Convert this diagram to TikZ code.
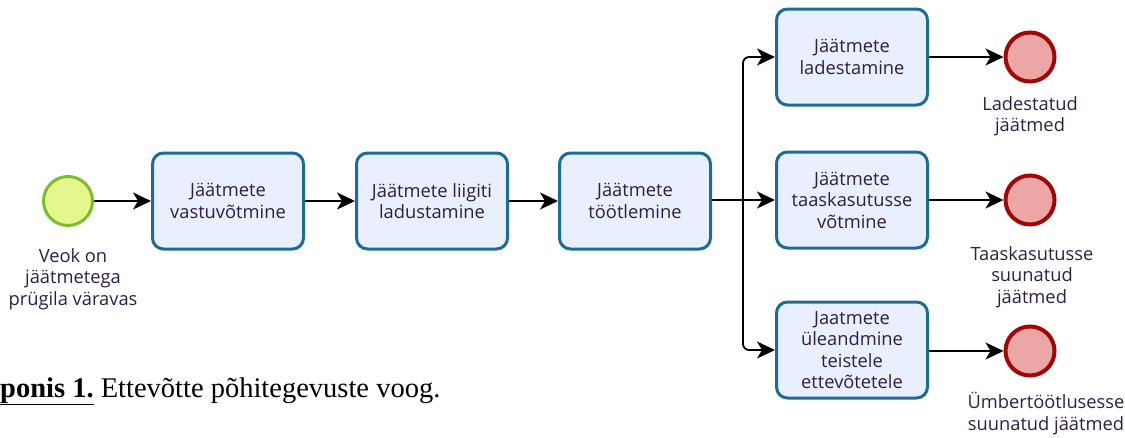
\documentclass[tikz,border=0pt]{standalone}
\usepackage{fontspec}
\setmainfont{Liberation Serif}
\newfontfamily\bpmnfont{Open Sans}
\usetikzlibrary{arrows.meta}
\definecolor{taskfill}{RGB}{233,239,252}
\definecolor{taskdraw}{RGB}{28,108,150}
\definecolor{startfill}{RGB}{229,246,140}
\definecolor{startdraw}{RGB}{122,190,45}
\definecolor{endfill}{RGB}{236,166,166}
\definecolor{enddraw}{RGB}{160,8,8}
\definecolor{bpmntext}{RGB}{45,30,70}
\tikzset{
  taskbox/.style={draw=taskdraw, fill=taskfill, line width=3pt, rounded corners=11pt,
    minimum width=151pt, minimum height=96pt, align=center, inner sep=2pt,
    font=\bpmnfont\fontsize{18.3}{21.5}\selectfont, text=bpmntext},
  startev/.style={circle, draw=startdraw, fill=startfill, line width=3pt, minimum size=49pt, inner sep=0pt},
  endev/.style={circle, draw=enddraw, fill=endfill, line width=4pt, minimum size=49pt, inner sep=0pt},
  evlabel/.style={align=center, inner sep=0pt, anchor=north,
    font=\bpmnfont\fontsize{18.3}{21.5}\selectfont, text=bpmntext},
  flow/.style={line width=1.8pt, -{Stealth[length=18pt,width=17pt,inset=5pt]}},
  plainflow/.style={line width=1.8pt},
}
\begin{document}
\begin{tikzpicture}[x=1pt,y=-1pt]
\useasboundingbox (0,0) rectangle (1125,437);
% events
\node[startev] (s) at (68,201) {};
\node[taskbox] (b1) at (228,201) {Jäätmete\\vastuvõtmine};
\node[taskbox] (b2) at (432,201) {Jäätmete liigiti\\ladustamine};
\node[taskbox] (b3) at (635,201) {Jäätmete\\töötlemine};
\node[taskbox] (r1) at (852,57) {Jäätmete\\ladestamine};
\node[taskbox] (r2) at (852,200) {Jäätmete\\taaskasutusse\\võtmine};
\node[taskbox] (r3) at (852,350) {Jaatmete\\üleandmine\\teistele\\ettevõtetele};
\node[endev] (e1) at (1030,57) {};
\node[endev] (e2) at (1030,200) {};
\node[endev] (e3) at (1030,351) {};
% labels
\node[evlabel] (ls) at (73,248) {Veok on\\jäätmetega\\prügila väravas};
\node[evlabel] (l1) at (1030,96) {Ladestatud\\jäätmed};
\node[evlabel] (l2) at (1032,246) {Taaskasutusse\\suunatud\\jäätmed};
\node[evlabel] (l3) at (1046,392) {Ümbertöötlusesse\\suunatud jäätmed};
% connectors
\draw[flow] (s) -- (b1);
\draw[flow] (b1) -- (b2);
\draw[flow] (b2) -- (b3);
\coordinate (j) at (743,200);
\draw[plainflow] (b3.east |- j) -- (j);
\draw[flow, rounded corners=6pt] (j) |- (r1.west);
\draw[flow] (j) -- (r2.west |- j);
\draw[flow, rounded corners=6pt] (j) |- (r3.west);
\draw[flow] (r1) -- (e1);
\draw[flow] (r2.east |- e2) -- (e2);
\draw[flow] (r3.east |- e3) -- (e3);
% caption
\node[anchor=base west, inner sep=0pt, font=\fontsize{28.5}{34}\selectfont] (cap) at (0,397)
  {\textbf{\underline{ponis 1.}} Ettevõtte põhitegevuste voog.};
\end{tikzpicture}
\end{document}
